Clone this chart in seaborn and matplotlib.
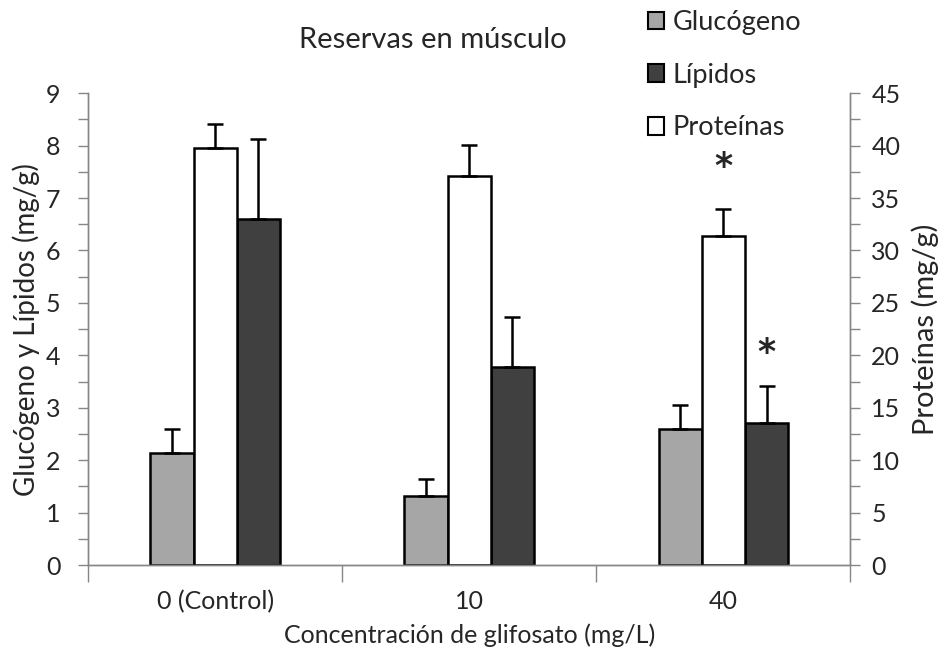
import matplotlib
matplotlib.use("Agg")
import matplotlib.pyplot as plt
import seaborn as sns
import pandas as pd
from matplotlib.patches import Patch
from matplotlib.ticker import MultipleLocator

# ---- data ----
categories = ["0 (Control)", "10", "40"]
glucogeno = [2.13, 1.32, 2.59]
glucogeno_err = [0.46, 0.32, 0.46]
lipidos = [6.60, 3.78, 2.70]
lipidos_err = [1.52, 0.96, 0.72]
proteinas = [39.8, 37.1, 31.4]
proteinas_err = [2.3, 3.0, 2.6]
series_order = ["Glucógeno", "Proteínas", "Lípidos"]
colors = {"Glucógeno": "#a6a6a6", "Proteínas": "#ffffff", "Lípidos": "#404040"}
star_lip = [None, None, 4.05]     # left axis
star_prot = [None, None, 38.0]    # right axis

sns.set_theme(style="white")
plt.rcParams["font.family"] = ["Lato", "DejaVu Sans"]

zeros = [0.0] * len(categories)
left_df = pd.DataFrame({
    "cat": categories * 3,
    "serie": ["Glucógeno"] * 3 + ["Proteínas"] * 3 + ["Lípidos"] * 3,
    "val": glucogeno + zeros + lipidos,
})
right_df = pd.DataFrame({
    "cat": categories * 3,
    "serie": ["Glucógeno"] * 3 + ["Proteínas"] * 3 + ["Lípidos"] * 3,
    "val": zeros + proteinas + zeros,
})

fig = plt.figure(figsize=(9.47, 6.52), dpi=100)
ax = fig.add_axes([0.093, 0.1334, 0.805, 0.7236])
ax2 = ax.twinx()

W = 0.51
for a, df in ((ax, left_df), (ax2, right_df)):
    sns.barplot(data=df, x="cat", y="val", hue="serie", hue_order=series_order,
                order=categories, palette=colors, width=W, edgecolor="black",
                linewidth=1.8, errorbar=None, ax=a, legend=False, saturation=1)
    for p in list(a.patches):
        if p.get_height() == 0:
            p.remove()

def xs(axis):
    return sorted(p.get_x() + p.get_width() / 2 for p in axis.patches)

lx = xs(ax)
glu_x = lx[0::2]
lip_x = lx[1::2]
prot_x = xs(ax2)

ekw = dict(fmt="none", ecolor="black", elinewidth=1.8, capsize=6, capthick=1.8, zorder=5)
ax.errorbar(glu_x, glucogeno, yerr=[[0] * 3, glucogeno_err], **ekw)
ax.errorbar(lip_x, lipidos, yerr=[[0] * 3, lipidos_err], **ekw)
ax2.errorbar(prot_x, proteinas, yerr=[[0] * 3, proteinas_err], **ekw)

for x, s in zip(lip_x, star_lip):
    if s is not None:
        ax.text(x, s, "*", ha="center", va="center", fontsize=25, fontweight="bold",
                family="DejaVu Sans")
for x, s in zip(prot_x, star_prot):
    if s is not None:
        ax2.text(x, s, "*", ha="center", va="center", fontsize=25, fontweight="bold",
                 family="DejaVu Sans")

gray = "#868686"
ax.set_ylim(0, 9)
ax2.set_ylim(0, 45)
ax.set_xlim(-0.5, 2.5)
ax.yaxis.set_major_locator(MultipleLocator(1))
ax.yaxis.set_minor_locator(MultipleLocator(0.5))
ax2.yaxis.set_major_locator(MultipleLocator(5))
ax2.yaxis.set_minor_locator(MultipleLocator(2.5))

for a in (ax, ax2):
    for s in a.spines.values():
        s.set_color(gray)
        s.set_linewidth(1)
    a.spines["top"].set_visible(False)
    a.grid(False)

ax.tick_params(axis="y", which="both", direction="out", length=7, width=1, color=gray,
               labelsize=18, left=True, pad=13)
ax2.tick_params(axis="y", which="both", direction="out", length=7, width=1, color=gray,
                labelsize=18, right=True, pad=8)
ax.set_xticks([-0.5, 0.5, 1.5, 2.5])
ax.set_xticklabels([])
ax.set_xticks([0, 1, 2], minor=True)
ax.set_xticklabels(categories, minor=True)
ax.tick_params(axis="x", which="major", direction="out", length=12, width=1, color=gray, bottom=True)
ax.tick_params(axis="x", which="minor", length=0, labelsize=18, pad=18)

ax.set_xlabel("Concentración de glifosato (mg/L)", fontsize=18, labelpad=7)
ax.set_ylabel("Glucógeno y Lípidos (mg/g)", fontsize=20, labelpad=4)
ax2.set_ylabel("Proteínas (mg/g)", fontsize=21, labelpad=8)

fig.text(0.457, 0.938, "Reservas en músculo", ha="center", va="center", fontsize=21)

handles = [Patch(facecolor=colors[k], edgecolor="black", linewidth=1.5) for k in
           ["Glucógeno", "Lípidos", "Proteínas"]]
fig.legend(handles, ["Glucógeno", "Lípidos", "Proteínas"], loc="upper left",
           bbox_to_anchor=(0.658, 1.022), frameon=False, fontsize=19.5,
           handlelength=0.62, handleheight=0.62, handletextpad=0.3, labelspacing=1.02)

fig.savefig("out.png", dpi=100)
